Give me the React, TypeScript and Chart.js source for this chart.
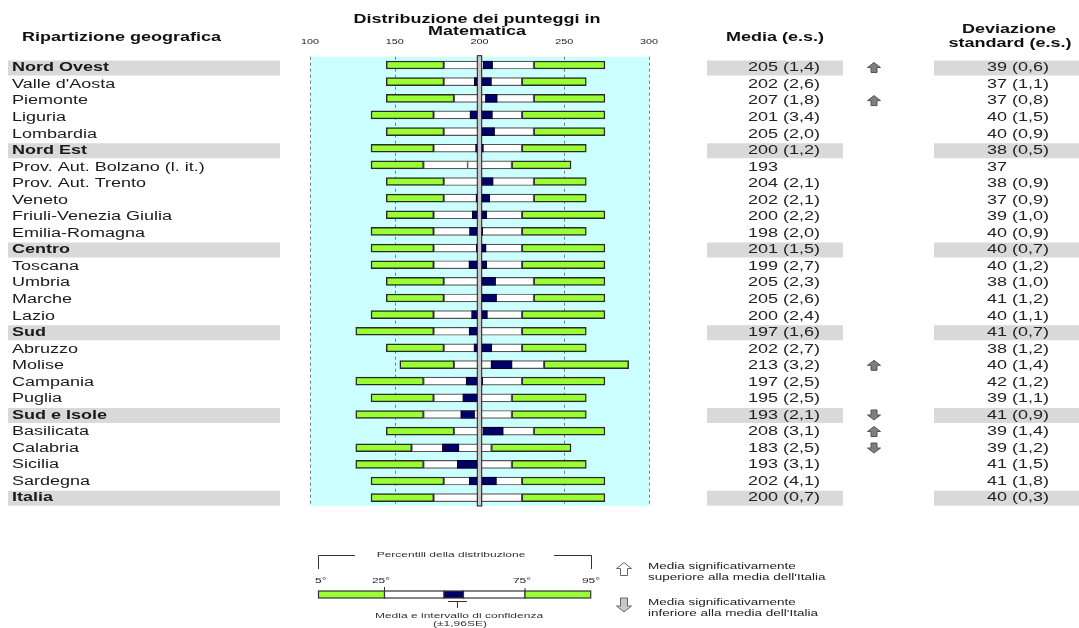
import React, { useEffect, useRef } from 'react';
import { Chart, registerables } from 'chart.js';

Chart.register(...registerables);

// ---------------- DATA ----------------
const regions = [
  'Nord Ovest', "Valle d'Aosta", 'Piemonte', 'Liguria', 'Lombardia',
  'Nord Est', 'Prov. Aut. Bolzano (l. it.)', 'Prov. Aut. Trento', 'Veneto', 'Friuli-Venezia Giulia', 'Emilia-Romagna',
  'Centro', 'Toscana', 'Umbria', 'Marche', 'Lazio',
  'Sud', 'Abruzzo', 'Molise', 'Campania', 'Puglia',
  'Sud e Isole', 'Basilicata', 'Calabria', 'Sicilia', 'Sardegna',
  'Italia',
];
const isMacro = [1, 0, 0, 0, 0, 1, 0, 0, 0, 0, 0, 1, 0, 0, 0, 0, 1, 0, 0, 0, 0, 1, 0, 0, 0, 0, 1];

const p5 = [145, 145, 145, 136, 145, 136, 136, 145, 145, 145, 136, 136, 136, 145, 145, 136, 127, 145, 153, 127, 136, 127, 145, 127, 127, 136, 136];
const p25 = [179, 179, 185, 173, 179, 173, 167, 179, 179, 173, 173, 173, 173, 179, 179, 173, 173, 179, 185, 167, 173, 167, 185, 160, 167, 179, 173];
const p75 = [232, 225, 232, 225, 232, 225, 219, 232, 232, 225, 225, 225, 225, 232, 232, 225, 225, 225, 238, 225, 219, 219, 232, 207, 219, 225, 225];
const p95 = [274, 263, 274, 274, 274, 263, 254, 263, 263, 274, 263, 274, 274, 274, 274, 274, 263, 263, 288, 274, 263, 263, 274, 254, 263, 274, 274];

const meanScore = [205, 202, 207, 201, 205, 200, 193, 204, 202, 200, 198, 201, 199, 205, 205, 200, 197, 202, 213, 197, 195, 193, 208, 183, 193, 202, 200];
const meanSE: (number | null)[] = [1.4, 2.6, 1.8, 3.4, 2.0, 1.2, null, 2.1, 2.1, 2.2, 2.0, 1.5, 2.7, 2.3, 2.6, 2.4, 1.6, 2.7, 3.2, 2.5, 2.5, 2.1, 3.1, 2.5, 3.1, 4.1, 0.7];
const sdScore = [39, 37, 37, 40, 40, 38, 37, 38, 37, 39, 40, 40, 40, 38, 41, 40, 41, 38, 40, 42, 39, 41, 39, 39, 41, 41, 40];
const sdSE: (number | null)[] = [0.6, 1.1, 0.8, 1.5, 0.9, 0.5, null, 0.9, 0.9, 1.0, 0.9, 0.7, 1.2, 1.0, 1.2, 1.1, 0.7, 1.2, 1.4, 1.2, 1.1, 0.9, 1.4, 1.2, 1.5, 1.8, 0.3];
// 1 = significantly above Italy, -1 = significantly below
const signif = [1, 0, 1, 0, 0, 0, 0, 0, 0, 0, 0, 0, 0, 0, 0, 0, 0, 0, 1, 0, 0, -1, 1, -1, 0, 0, 0];

const xTicks = [100, 150, 200, 250, 300];
const italyMean = 200;

// ---------------- STYLE ----------------
const GREEN = '#99FF33';
const NAVY = '#000066';
const CYAN = '#CCFFFF';
const BAND = '#D9D9D9';
const FONT = '"Liberation Sans", Arial, sans-serif';
const SX = 1.5;

function fmt(v: number | null) {
  return v == null ? '' : v.toFixed(1).replace('.', ',');
}

function drawText(
  ctx: CanvasRenderingContext2D, s: string, x: number, y: number,
  font: string, align: CanvasTextAlign, color: string, sx = SX,
) {
  ctx.save();
  ctx.font = font;
  ctx.fillStyle = color;
  ctx.textAlign = align;
  ctx.textBaseline = 'middle';
  ctx.translate(x, y);
  ctx.scale(sx, 1);
  ctx.fillText(s, 0, 0);
  ctx.restore();
}

function arrow(
  ctx: CanvasRenderingContext2D, cx: number, cy: number, up: boolean,
  w: number, h: number, sw: number, hh: number, fill: string, stroke: string,
) {
  const d = up ? 1 : -1;
  const tip = cy - d * h / 2;
  const base = cy + d * h / 2;
  const neck = tip + d * hh;
  ctx.save();
  ctx.beginPath();
  ctx.moveTo(cx, tip);
  ctx.lineTo(cx + w / 2, neck);
  ctx.lineTo(cx + sw / 2, neck);
  ctx.lineTo(cx + sw / 2, base);
  ctx.lineTo(cx - sw / 2, base);
  ctx.lineTo(cx - sw / 2, neck);
  ctx.lineTo(cx - w / 2, neck);
  ctx.closePath();
  ctx.fillStyle = fill;
  ctx.fill();
  ctx.strokeStyle = stroke;
  ctx.lineWidth = 1;
  ctx.stroke();
  ctx.restore();
}

// table rows sit slightly lower than the bars near the top of the chart
function rowTextY(ys: any, i: number) {
  const n = regions.length - 1;
  return ys.getPixelForValue(i) + 0.5 + 2.5 * (1 - i / n);
}

const tablePlugin = {
  id: 'tablePlugin',
  beforeDatasetsDraw(chart: any) {
    const { ctx, chartArea: a, scales } = chart;
    const xs = scales.x, ys = scales.y;
    ctx.save();
    ctx.fillStyle = CYAN;
    ctx.fillRect(a.left, a.top, a.right - a.left, a.bottom - a.top);
    regions.forEach((_, i) => {
      if (!isMacro[i]) return;
      const y = rowTextY(ys, i);
      ctx.fillStyle = BAND;
      ctx.fillRect(8, y - 7.5, 272, 15);
      ctx.fillRect(707, y - 7.5, 136, 15);
      ctx.fillRect(934, y - 7.5, 145, 15);
    });
    ctx.strokeStyle = '#7a7a7a';
    ctx.lineWidth = 1;
    ctx.setLineDash([3, 3]);
    xTicks.forEach((t) => {
      if (t === italyMean) return;
      const x = Math.round(xs.getPixelForValue(t)) + 0.5;
      ctx.beginPath();
      ctx.moveTo(x, a.top);
      ctx.lineTo(x, a.bottom);
      ctx.stroke();
    });
    ctx.restore();
  },
  afterDatasetsDraw(chart: any) {
    const { ctx, chartArea: a, scales } = chart;
    const xs = scales.x, ys = scales.y;
    ctx.save();
    regions.forEach((_, i) => {
      if (meanSE[i] != null) return;
      const x = xs.getPixelForValue(meanScore[i]);
      const y = ys.getPixelForValue(i);
      ctx.strokeStyle = '#666';
      ctx.lineWidth = 1.5;
      ctx.beginPath();
      ctx.moveTo(x, y - 4);
      ctx.lineTo(x, y + 4);
      ctx.stroke();
    });
    const xm = xs.getPixelForValue(italyMean);
    ctx.fillStyle = '#C8C8C8';
    ctx.fillRect(xm - 2.2, a.top - 1, 4.4, a.bottom - a.top + 1);
    ctx.strokeStyle = '#1a1a1a';
    ctx.lineWidth = 1;
    ctx.strokeRect(xm - 2.2, a.top - 1, 4.4, a.bottom - a.top + 1);
    ctx.restore();
  },
  afterDraw(chart: any) {
    const { ctx, scales } = chart;
    const xs = scales.x, ys = scales.y;
    const bold12 = `bold 12px ${FONT}`;
    const reg12 = `12px ${FONT}`;
    drawText(ctx, 'Distribuzione dei punteggi in', 477, 20, bold12, 'center', '#111');
    drawText(ctx, 'Matematica', 477, 32, bold12, 'center', '#111');
    drawText(ctx, 'Ripartizione geografica', 22, 38, bold12, 'left', '#111');
    drawText(ctx, 'Media (e.s.)', 775, 38, bold12, 'center', '#111');
    drawText(ctx, 'Deviazione', 1009, 30, bold12, 'center', '#111');
    drawText(ctx, 'standard (e.s.)', 1010, 44, bold12, 'center', '#111');
    xTicks.forEach((t) => {
      drawText(ctx, String(t), xs.getPixelForValue(t), 42, `8px ${FONT}`, 'center', '#222', 1.35);
    });
    regions.forEach((name, i) => {
      const y = rowTextY(ys, i);
      drawText(ctx, name, 12, y, isMacro[i] ? bold12 : reg12, 'left', '#1a1a1a');
      const m = meanSE[i] == null ? String(meanScore[i]) : `${meanScore[i]} (${fmt(meanSE[i])})`;
      drawText(ctx, m, 748, y, reg12, 'left', '#222');
      const s = sdSE[i] == null ? String(sdScore[i]) : `${sdScore[i]} (${fmt(sdSE[i])})`;
      drawText(ctx, s, 987, y, reg12, 'left', '#222');
      if (signif[i] !== 0) {
        arrow(ctx, 874, y - 0.5, signif[i] > 0, 13, 10, 6, 5, '#7f7f7f', '#555');
      }
    });

    // ---------- legend ----------
    const f8 = `8px ${FONT}`;
    const f9 = `9px ${FONT}`;
    ctx.save();
    drawText(ctx, 'Percentili della distribuzione', 451, 555, f8, 'center', '#333');
    ctx.strokeStyle = '#333';
    ctx.lineWidth = 1;
    ctx.beginPath();
    ctx.moveTo(318.5, 569); ctx.lineTo(318.5, 555.5); ctx.lineTo(355, 555.5);
    ctx.moveTo(554, 555.5); ctx.lineTo(591.5, 555.5); ctx.lineTo(591.5, 569);
    ctx.stroke();
    drawText(ctx, '5°', 315, 581, f8, 'left', '#222');
    drawText(ctx, '25°', 381, 581, f8, 'center', '#222');
    drawText(ctx, '75°', 522, 581, f8, 'center', '#222');
    drawText(ctx, '95°', 591, 581, f8, 'center', '#222');
    const segs: [number, number, string][] = [
      [318.5, 384.5, GREEN], [384.5, 444, '#FFFFFF'], [444, 463.5, NAVY], [463.5, 525, '#FFFFFF'], [525, 590.7, GREEN],
    ];
    segs.forEach(([x0, x1, c]) => {
      ctx.fillStyle = c;
      ctx.fillRect(x0, 591, x1 - x0, 7);
      ctx.strokeStyle = '#333';
      ctx.lineWidth = 1.2;
      ctx.strokeRect(x0, 591, x1 - x0, 7);
    });
    ctx.lineWidth = 1;
    ctx.beginPath();
    ctx.moveTo(384.5, 587); ctx.lineTo(384.5, 591);
    ctx.moveTo(525, 588); ctx.lineTo(525, 591);
    ctx.moveTo(448, 601.5); ctx.lineTo(467, 601.5);
    ctx.moveTo(457.5, 601.5); ctx.lineTo(457.5, 608);
    ctx.stroke();
    drawText(ctx, 'Media e intervallo di confidenza', 459, 616, f8, 'center', '#333');
    drawText(ctx, '(±1,96SE)', 460, 624, f8, 'center', '#333');

    arrow(ctx, 624, 569, true, 15, 13, 7, 6, '#FFFFFF', '#666');
    arrow(ctx, 624, 605, false, 15, 14, 7, 6, '#C8C8C8', '#666');
    drawText(ctx, 'Media significativamente', 648, 567, f9, 'left', '#222');
    drawText(ctx, "superiore alla media dell'Italia", 648, 578, f9, 'left', '#222');
    drawText(ctx, 'Media significativamente', 648, 603, f9, 'left', '#222');
    drawText(ctx, "inferiore alla media dell'Italia", 648, 614, f9, 'left', '#222');
    ctx.restore();
  },
};

export default function App() {
  const ref = useRef<HTMLCanvasElement>(null);
  useEffect(() => {
    const canvas = ref.current;
    if (!canvas) return;
    const chart = new Chart(canvas, {
      type: 'bar',
      data: {
        labels: regions,
        datasets: [
          {
            label: 'Intervallo di confidenza',
            data: regions.map((_, i) => {
              const se = meanSE[i];
              return se == null ? null : [meanScore[i] - 1.96 * se, meanScore[i] + 1.96 * se];
            }) as any,
            backgroundColor: NAVY,
            borderColor: '#000022',
            borderWidth: 1,
          },
          {
            label: '5°-25°',
            data: regions.map((_, i) => [p5[i], p25[i]]) as any,
            backgroundColor: GREEN,
            borderColor: '#2b2b2b',
            borderWidth: 1.5,
          },
          {
            label: '25°-75°',
            data: regions.map((_, i) => [p25[i], p75[i]]) as any,
            backgroundColor: '#FFFFFF',
            borderColor: '#555555',
            borderWidth: 1.2,
          },
          {
            label: '75°-95°',
            data: regions.map((_, i) => [p75[i], p95[i]]) as any,
            backgroundColor: GREEN,
            borderColor: '#2b2b2b',
            borderWidth: 1.5,
          },
        ],
      },
      options: {
        indexAxis: 'y',
        responsive: false,
        animation: false,
        devicePixelRatio: 1,
        layout: { padding: { left: 310, right: 430, top: 56.7, bottom: 122 } },
        datasets: { bar: { grouped: false, barThickness: 8, borderSkipped: false } as any },
        scales: {
          x: { type: 'linear', min: 100, max: 300, display: false },
          y: { type: 'category', display: false, offset: true },
        },
        plugins: { legend: { display: false }, tooltip: { enabled: false } },
      } as any,
      plugins: [tablePlugin],
    });
    return () => chart.destroy();
  }, []);
  return (
    <div style={{ position: 'absolute', left: 0, top: 0 }}>
      <canvas ref={ref} width={1079} height={628} style={{ display: 'block' }} />
    </div>
  );
}
